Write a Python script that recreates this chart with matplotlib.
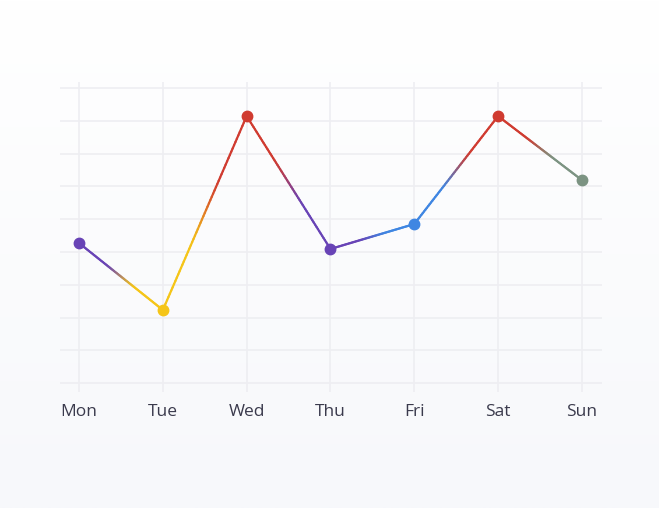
import numpy as np
import matplotlib
matplotlib.use("Agg")
import matplotlib.pyplot as plt
from matplotlib.colors import to_rgb

days = ["Mon", "Tue", "Wed", "Thu", "Fri", "Sat", "Sun"]
values = [4.27, 2.23, 8.14, 4.09, 4.85, 8.14, 6.19]
colors = ["#6843b6", "#f5c518", "#d03b30", "#6843b6", "#3f86e2", "#d03b30", "#7c9382"]

fig = plt.figure(figsize=(6.59, 5.08), dpi=100)
bg = fig.add_axes([0, 0, 1, 1], zorder=-10)
grad = np.linspace(0, 1, 256).reshape(-1, 1)
bg.imshow(grad, extent=[0, 1, 0, 1], aspect="auto", cmap=matplotlib.colors.LinearSegmentedColormap.from_list("b", ["#f7f8fb", "#ffffff"]), origin="lower")
bg.axis("off")

W, H = 659, 508
ax = fig.add_axes([60 / W, 1 - 392 / H, (602 - 60) / W, (392 - 82) / H])
ax.patch.set_alpha(0)
ax.set_xlim(-0.227, 6.24)
ax.set_ylim(-0.27, 9.18)
for s in ax.spines.values():
    s.set_visible(False)
ax.set_yticks(range(10))
ax.set_xticks(range(len(days)))
ax.set_xticklabels(days, fontsize=12.5, color="#3a3a4c", family="Open Sans")
ax.tick_params(length=0, pad=9, labelleft=False)
ax.grid(True, color="#eeeef2", linewidth=1.2)
ax.set_axisbelow(True)

x = np.arange(len(days))
for i in range(len(days) - 1):
    c0, c1 = np.array(to_rgb(colors[i])), np.array(to_rgb(colors[i + 1]))
    n = 60
    t = np.linspace(0, 1, n + 1)
    for k in range(n):
        tm = (t[k] + t[k + 1]) / 2
        w = np.clip((tm - 0.3) / 0.4, 0, 1)
        w = w * w * (3 - 2 * w)
        c = c0 * (1 - w) + c1 * w
        xs = x[i] + (x[i + 1] - x[i]) * t[k:k + 2]
        ys = values[i] + (values[i + 1] - values[i]) * t[k:k + 2]
        ax.plot(xs, ys, color=c, linewidth=1.6, solid_capstyle="round", zorder=3)
for xi, yi, c in zip(x, values, colors):
    ax.plot(xi, yi, "o", color=c, markersize=7.5, zorder=4)

fig.savefig("out.png", dpi=100)
